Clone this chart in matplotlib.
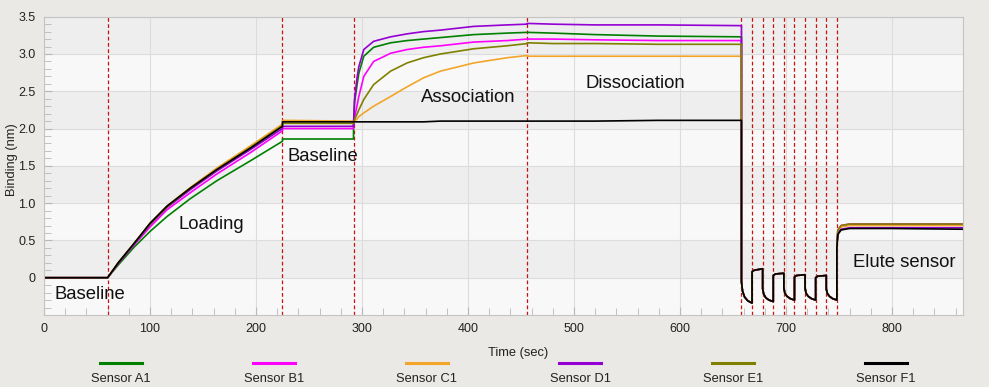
import numpy as np
import matplotlib.pyplot as plt
from matplotlib.lines import Line2D
from matplotlib.ticker import MultipleLocator, FuncFormatter

plt.rcParams['font.family'] = ['Liberation Sans', 'DejaVu Sans']

# sensors and colours
sensors = ['Sensor A1', 'Sensor B1', 'Sensor C1', 'Sensor D1', 'Sensor E1', 'Sensor F1']
colors = ['#008000', '#ff00ff', '#f2a52a', '#9400d3', '#808000', '#000000']

# step boundaries (sec)
step_times = [60, 225, 292, 456, 658, 668, 678, 688, 698, 708, 718, 728, 738, 748]

# phase 1: baseline
t_base1 = [0, 60]
base1_vals = [0.0, 0.0]

# phase 2: loading
t_load = [60, 70, 85, 100, 116, 138, 163, 195, 225]
load_vals = [
    [0, 0.17, 0.41, 0.62, 0.82, 1.06, 1.30, 1.57, 1.83],
    [0, 0.19, 0.44, 0.68, 0.91, 1.14, 1.39, 1.68, 1.97],
    [0, 0.20, 0.46, 0.73, 0.96, 1.21, 1.47, 1.77, 2.06],
    [0, 0.19, 0.45, 0.71, 0.94, 1.18, 1.43, 1.72, 2.00],
    [0, 0.20, 0.46, 0.72, 0.95, 1.20, 1.45, 1.75, 2.04],
    [0, 0.20, 0.46, 0.73, 0.96, 1.20, 1.45, 1.74, 2.03],
]

# phase 3: baseline
t_base2 = [225, 292]
base2_vals = [
    [1.86, 1.86],
    [2.00, 2.00],
    [2.11, 2.10],
    [2.03, 2.03],
    [2.07, 2.07],
    [2.09, 2.09],
]

# phase 4: association
t_assoc = [292, 293, 295.5, 297, 301.7, 311, 327, 342.6, 358, 374, 405.5, 437, 456]
assoc_vals = [
    [2.05, 2.35, 2.60, 2.74, 2.97, 3.09, 3.15, 3.18, 3.20, 3.22, 3.26, 3.28, 3.29],
    [2.03, 2.15, 2.32, 2.43, 2.70, 2.90, 3.01, 3.06, 3.09, 3.11, 3.16, 3.18, 3.20],
    [2.08, 2.10, 2.13, 2.16, 2.21, 2.30, 2.43, 2.56, 2.68, 2.77, 2.88, 2.95, 2.98],
    [2.05, 2.40, 2.70, 2.83, 3.06, 3.17, 3.23, 3.27, 3.30, 3.32, 3.37, 3.39, 3.40],
    [2.07, 2.12, 2.20, 2.25, 2.39, 2.59, 2.77, 2.88, 2.95, 3.00, 3.07, 3.11, 3.14],
    [2.09, 2.09, 2.09, 2.09, 2.09, 2.09, 2.09, 2.09, 2.09, 2.10, 2.10, 2.10, 2.10],
]

# phase 5: dissociation
t_dissoc = [456, 480, 520, 580, 658]
dissoc_vals = [
    [3.29, 3.28, 3.26, 3.24, 3.23],
    [3.20, 3.20, 3.19, 3.18, 3.18],
    [2.97, 2.97, 2.97, 2.97, 2.97],
    [3.41, 3.40, 3.39, 3.39, 3.38],
    [3.15, 3.14, 3.14, 3.13, 3.13],
    [2.10, 2.10, 2.10, 2.11, 2.11],
]

# regeneration / neutralisation cycles (all sensors nearly overlap)
t_regen = [658, 659, 661, 664, 668, 668, 670, 678,
           678, 679, 681, 684, 688, 688, 690, 698,
           698, 699, 701, 704, 708, 708, 710, 718,
           718, 719, 721, 724, 728, 728, 730, 738,
           738, 739, 741, 744, 748]
regen_vals = [-0.05, -0.18, -0.26, -0.31, -0.34, 0.08, 0.10, 0.12,
              -0.15, -0.22, -0.27, -0.30, -0.32, 0.03, 0.05, 0.06,
              -0.14, -0.21, -0.25, -0.28, -0.30, 0.01, 0.03, 0.04,
              -0.14, -0.21, -0.25, -0.28, -0.30, 0.00, 0.02, 0.03,
              -0.15, -0.21, -0.25, -0.28, -0.30]

# elute sensor
t_elute = [748, 749, 752, 760, 800, 867]
elute_vals = [
    [0.45, 0.63, 0.69, 0.71, 0.71, 0.71],
    [0.45, 0.64, 0.70, 0.72, 0.72, 0.72],
    [0.44, 0.62, 0.68, 0.70, 0.70, 0.70],
    [0.42, 0.60, 0.65, 0.67, 0.67, 0.67],
    [0.45, 0.64, 0.70, 0.72, 0.72, 0.72],
    [0.40, 0.58, 0.64, 0.66, 0.66, 0.65],
]

phase_names = ['Baseline', 'Loading', 'Baseline', 'Association', 'Dissociation', 'Elute sensor']
phase_x = [43, 158, 263, 400, 558, 812]
phase_y = [-0.22, 0.72, 1.62, 2.41, 2.61, 0.21]

fig = plt.figure(figsize=(9.89, 3.87), dpi=100, facecolor='#ebe9e5')
ax = fig.add_axes([44 / 989, 1 - 315 / 387, 919 / 989, (315 - 16.7) / 387])
ax.set_facecolor('#f8f8f8')
ax.set_xlim(0, 867)
ax.set_ylim(-0.5, 3.5)

# alternating grey bands
for lo in np.arange(-0.5, 3.5, 0.5):
    if round(lo / 0.5) % 2 == 0:
        ax.axhspan(lo, lo + 0.5, color='#eeeeee', zorder=0, lw=0)
ax.grid(True, which='major', color='#dcdcdc', lw=0.8, zorder=0.5)
ax.set_axisbelow(True)

for t in step_times:
    ax.axvline(t, color='#cc1111', lw=0.9, ls=(0, (3, 2)), zorder=1)

t_all = t_base1 + t_load + t_base2 + t_assoc + t_dissoc + t_regen + t_elute
for i, name in enumerate(sensors):
    y_all = (base1_vals + load_vals[i] + base2_vals[i] + assoc_vals[i]
             + dissoc_vals[i] + regen_vals + elute_vals[i])
    ax.plot(t_all, y_all, color=colors[i], lw=1.2, zorder=2)

for name, px, py in zip(phase_names, phase_x, phase_y):
    ax.text(px, py, name, fontsize=13.3, ha='center', va='center', color='#111111', zorder=3)

ax.set_yticks(np.arange(0, 3.51, 0.5))
ax.yaxis.set_major_formatter(FuncFormatter(lambda v, p: '0' if abs(v) < 1e-9 else f'{v:.1f}'))
ax.yaxis.set_minor_locator(MultipleLocator(0.1))
ax.xaxis.set_major_locator(MultipleLocator(100))
ax.xaxis.set_minor_locator(MultipleLocator(20))
ax.tick_params(which='both', direction='in', color='#b8b8b8', labelsize=9,
               labelcolor='#222222', pad=6)
ax.tick_params(which='major', length=6)
ax.tick_params(which='minor', length=5)
for s in ax.spines.values():
    s.set_color('#c4c4c4')

ax.set_xlabel('Time (sec)', fontsize=9.3, color='#222222')
ax.xaxis.set_label_coords((518 - 44) / 919, -(347 - 315) / 298.3)
ax.set_ylabel('Binding (nm)', fontsize=9.3, color='#222222')
ax.yaxis.set_label_coords(-(26 / 919), 0.52)

# legend row: line above label
for i, name in enumerate(sensors):
    xc = (121 + i * 153) / 989
    fig.add_artist(Line2D([xc - 21 / 989, xc + 21 / 989], [1 - 362.7 / 387] * 2,
                          color=colors[i], lw=2.2))
    fig.text(xc, 1 - 379.5 / 387, name, fontsize=9.3, ha='center', va='center', color='#222222')

fig.savefig('out.png', dpi=100, facecolor=fig.get_facecolor())
